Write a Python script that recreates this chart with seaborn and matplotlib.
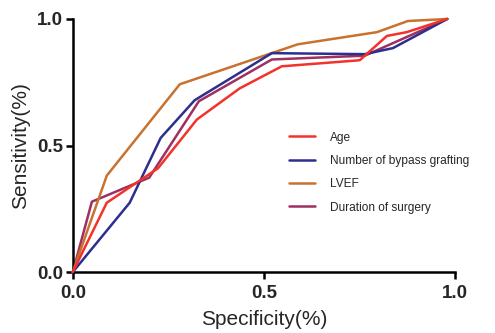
import pandas as pd
import matplotlib
matplotlib.use("Agg")
import matplotlib.pyplot as plt
import seaborn as sns

# ROC curves
age_x = [0, 0.089, 0.223, 0.325, 0.437, 0.547, 0.751, 0.822, 0.874, 0.98]
age_y = [0, 0.274, 0.41, 0.603, 0.726, 0.813, 0.837, 0.933, 0.948, 1.0]

graft_x = [0, 0.149, 0.23, 0.319, 0.521, 0.764, 0.838, 0.98]
graft_y = [0, 0.274, 0.53, 0.679, 0.865, 0.861, 0.885, 1.0]

lvef_x = [0, 0.089, 0.28, 0.589, 0.796, 0.877, 0.98]
lvef_y = [0, 0.381, 0.742, 0.90, 0.948, 0.992, 1.0]

dur_x = [0, 0.05, 0.2, 0.33, 0.521, 0.764, 0.98]
dur_y = [0, 0.278, 0.373, 0.675, 0.84, 0.855, 1.0]

labels = ["Age", "Number of bypass grafting", "LVEF", "Duration of surgery"]
xs = [age_x, graft_x, lvef_x, dur_x]
ys = [age_y, graft_y, lvef_y, dur_y]
colors = ["#f2322b", "#2e2e8e", "#c8722f", "#9e3060"]
zorders = [5, 4, 3, 2]

sns.set_theme(style="ticks")
plt.rcParams["font.family"] = ["Liberation Sans", "DejaVu Sans"]

fig = plt.figure(figsize=(4.95, 3.33), dpi=100)
ax = fig.add_axes([0.147, 0.183, 0.772, 0.760])

for x, y, lab, c, z in zip(xs, ys, labels, colors, zorders):
    df = pd.DataFrame({"x": x, "y": y})
    sns.lineplot(data=df, x="x", y="y", ax=ax, color=c, label=lab,
                 sort=False, estimator=None, linewidth=1.8, zorder=z,
                 clip_on=False)

ax.set_xlim(0, 1)
ax.set_ylim(0, 1)
ax.set_xticks([0, 0.5, 1.0])
ax.set_yticks([0, 0.5, 1.0])
ax.set_xticklabels(["0.0", "0.5", "1.0"], fontweight="bold", fontsize=13.5)
ax.set_yticklabels(["0.0", "0.5", "1.0"], fontweight="bold", fontsize=13.5)
ax.tick_params(direction="out", length=5, width=1.8, color="black", pad=2)
ax.tick_params(axis="x", pad=4)
for s in ["left", "bottom"]:
    ax.spines[s].set_linewidth(1.8)
    ax.spines[s].set_color("black")
sns.despine(ax=ax)

ax.set_xlabel("Specificity(%)", fontsize=15, labelpad=6)
ax.set_ylabel("Sensitivity(%)", fontsize=15, labelpad=5)

ax.legend(loc="upper left", bbox_to_anchor=(0.566, 0.555), frameon=False,
          fontsize=8.6, handlelength=2.2, handletextpad=1.2, labelspacing=0.95,
          borderpad=0, borderaxespad=0)

fig.savefig("out.png", dpi=100)
